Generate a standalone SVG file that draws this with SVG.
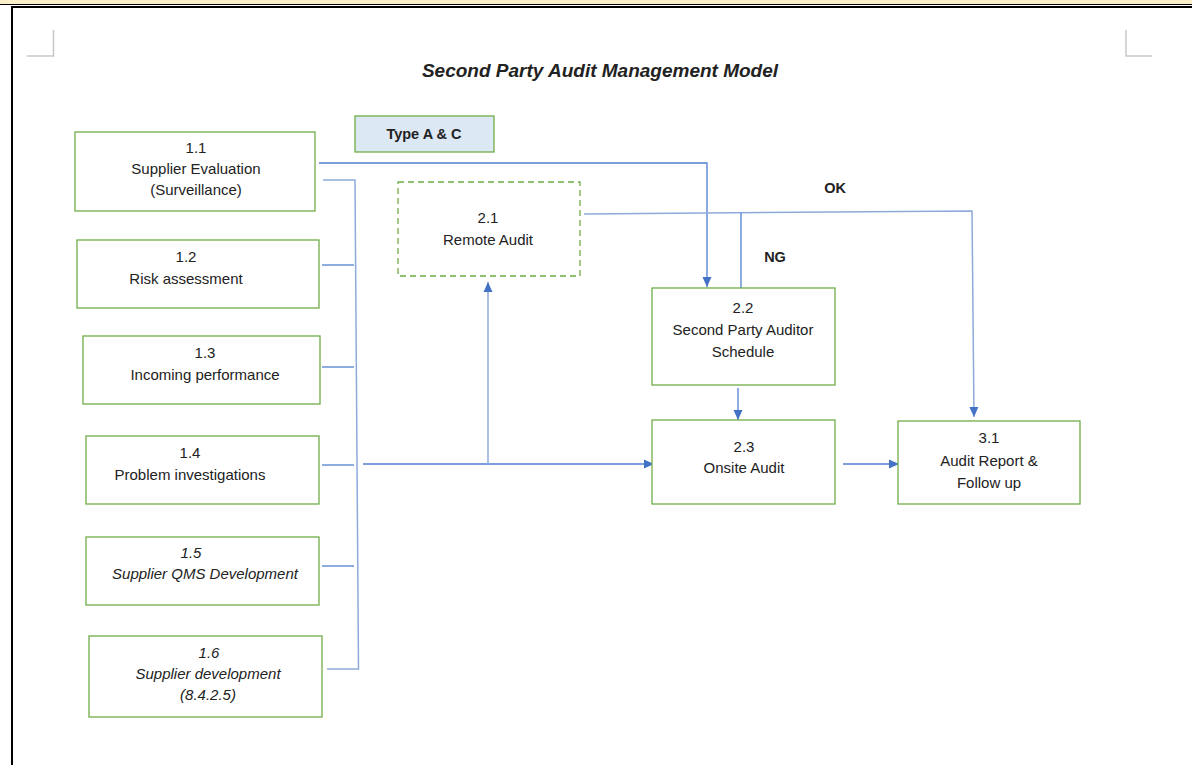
<svg xmlns="http://www.w3.org/2000/svg" width="1192" height="765" viewBox="0 0 1192 765">
<style>
.box{fill:#ffffff;stroke:#70ad47;stroke-width:1.3}
.dash{fill:#ffffff;stroke:#70ad47;stroke-width:1.3;stroke-dasharray:6 4}
.t{font-family:"Liberation Sans",Arial,sans-serif;font-size:15px;fill:#222;text-anchor:middle}
.ti{font-style:italic}
.b{font-weight:bold}
.ln{fill:none;stroke:#4f7fd0;stroke-width:1.3}
.lt{fill:none;stroke:#8eaadb;stroke-width:1.5}
.mark{fill:none;stroke:#c8c8c8;stroke-width:1.5}
</style>
<defs>
<marker id="ah" markerWidth="11" markerHeight="11" refX="10" refY="5.5" orient="auto" markerUnits="userSpaceOnUse">
<path d="M0,1 L10,5.5 L0,10 Z" fill="#4472c4"/>
</marker>
</defs>
<rect x="0" y="0" width="1192" height="765" fill="#ffffff"/>
<g id="page">
<rect x="0" y="0" width="1192" height="4" fill="#fbefc9"/>
<line x1="0" y1="4.5" x2="1192" y2="4.5" stroke="#000" stroke-width="1"/>
<line x1="12" y1="7" x2="1192" y2="7" stroke="#000" stroke-width="2"/>
<line x1="12" y1="6" x2="12" y2="765" stroke="#000" stroke-width="2"/>
<path class="mark" d="M27,56 H53.5 V30"/>
<path class="mark" d="M1126,30 V56 H1152"/>
</g>
<g id="title">
<text x="600" y="77" class="t ti b" style="font-size:19px" fill="#000">Second Party Audit Management Model</text>
</g>
<g id="typeAC">
<rect x="355" y="116" width="139" height="36" fill="#dde8f5" stroke="#70ad47" stroke-width="1.3"/>
<text x="424" y="139" class="t b" style="font-size:14.5px">Type A &amp; C</text>
</g>
<g id="connectors">
<path class="ln" d="M319,163 H707 V287" marker-end="url(#ah)"/>
<path class="lt" d="M323,180 H355 L358.5,669 H327"/>
<line class="ln" x1="322" y1="265" x2="354" y2="265"/>
<line class="ln" x1="322" y1="367" x2="354" y2="367"/>
<line class="ln" x1="322" y1="465" x2="354" y2="465"/>
<line class="ln" x1="322" y1="566" x2="354" y2="566"/>
<path class="ln" d="M363,464 H654" marker-end="url(#ah)"/>
<path class="lt" d="M488,464 V282" marker-end="url(#ah)"/>
<path class="lt" d="M584,214 L972,211 L974,417" marker-end="url(#ah)"/>
<line class="ln" x1="741" y1="213" x2="741" y2="288"/>
<path class="ln" d="M738,388 V420" marker-end="url(#ah)"/>
<path class="ln" d="M843,464 H899" marker-end="url(#ah)"/>
<text x="835" y="193" class="t b" style="font-size:14.5px">OK</text>
<text x="775" y="262" class="t b" style="font-size:14.5px">NG</text>
</g>
<g id="n11">
<rect class="box" x="75" y="132" width="240" height="79"/>
<text x="196" y="153" class="t">1.1</text>
<text x="196" y="174" class="t">Supplier Evaluation</text>
<text x="196" y="195" class="t">(Surveillance)</text>
</g>
<g id="n12">
<rect class="box" x="77" y="240" width="242" height="68"/>
<text x="186" y="262" class="t">1.2</text>
<text x="186" y="284" class="t">Risk assessment</text>
</g>
<g id="n13">
<rect class="box" x="83" y="336" width="237" height="68"/>
<text x="205" y="358" class="t">1.3</text>
<text x="205" y="380" class="t">Incoming performance</text>
</g>
<g id="n14">
<rect class="box" x="86" y="436" width="233" height="68"/>
<text x="190" y="458" class="t">1.4</text>
<text x="190" y="480" class="t">Problem investigations</text>
</g>
<g id="n15">
<rect class="box" x="86" y="537" width="233" height="68"/>
<text x="191" y="558" class="t ti">1.5</text>
<text x="205" y="579" class="t ti">Supplier QMS Development</text>
</g>
<g id="n16">
<rect class="box" x="89" y="636" width="233" height="81"/>
<text x="209" y="658" class="t ti">1.6</text>
<text x="208" y="679" class="t ti">Supplier development</text>
<text x="208" y="700" class="t ti">(8.4.2.5)</text>
</g>
<g id="n21">
<rect class="dash" x="398" y="182" width="182" height="94"/>
<text x="488" y="223" class="t">2.1</text>
<text x="488" y="245" class="t">Remote Audit</text>
</g>
<g id="n22">
<rect class="box" x="652" y="288" width="183" height="97"/>
<text x="743" y="313" class="t">2.2</text>
<text x="743" y="335" class="t">Second Party Auditor</text>
<text x="743" y="357" class="t">Schedule</text>
</g>
<g id="n23">
<rect class="box" x="652" y="420" width="183" height="84"/>
<text x="744" y="452" class="t">2.3</text>
<text x="744" y="473" class="t">Onsite Audit</text>
</g>
<g id="n31">
<rect class="box" x="898" y="421" width="182" height="83"/>
<text x="989" y="443" class="t">3.1</text>
<text x="989" y="466" class="t">Audit Report &amp;</text>
<text x="989" y="488" class="t">Follow up</text>
</g>
</svg>
